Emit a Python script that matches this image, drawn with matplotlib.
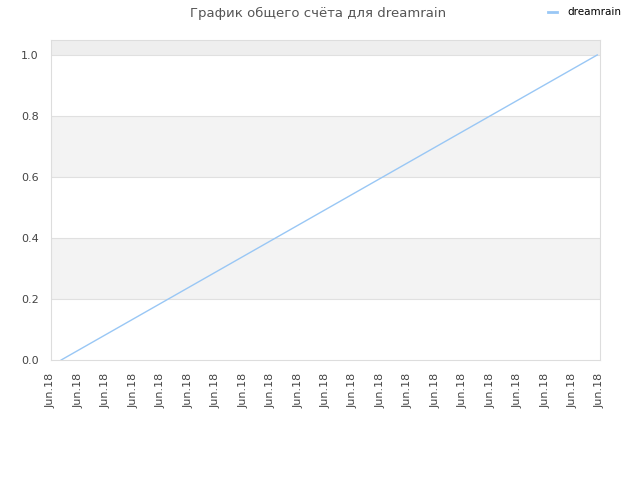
import matplotlib
matplotlib.use("Agg")
import matplotlib.pyplot as plt
from matplotlib.lines import Line2D

tick_labels = ["Jun.18"] * 21
x_vals = [0.37, 19.9]
y_vals = [0.0, 1.0]
series_name = "dreamrain"
title = "График общего счёта для dreamrain"

fig = plt.figure(figsize=(6.4, 4.8), dpi=100)
ax = fig.add_axes([51/640, 1-360/480, 549/640, 320/480])

ax.set_xlim(0, 20)
ax.set_ylim(0, 1.049)
bands = [(0.2, 0.4, "#f3f3f3"), (0.6, 0.8, "#f3f3f3"), (1.0, 1.049, "#eeeeee")]
for lo, hi, c in bands:
    ax.axhspan(lo, hi, color=c, zorder=0, lw=0)
for yv in [0.2, 0.4, 0.6, 0.8, 1.0]:
    ax.axhline(yv, color="#e0e0e0", lw=0.8, zorder=0.5)

ax.plot(x_vals, y_vals, color="#99c7f5", lw=1.0, label=series_name, zorder=2)

ax.set_xticks(range(len(tick_labels)))
ax.set_xticklabels(tick_labels, rotation=90, fontsize=8, color="#444444")
ax.set_yticks([0.0, 0.2, 0.4, 0.6, 0.8, 1.0])
ax.set_yticklabels(["0.0", "0.2", "0.4", "0.6", "0.8", "1.0"], fontsize=8, color="#444444")
ax.tick_params(axis="x", length=0, pad=9)
ax.tick_params(axis="y", length=0, pad=9)
for s in ax.spines.values():
    s.set_color("#dddddd")
    s.set_linewidth(0.8)

fig.text(0.497, 0.986, title, ha="center", va="top", fontsize=9.5, color="#555555")
handle = Line2D([], [], color="#99c7f5", lw=2.0)
fig.legend(handles=[handle], labels=[series_name], loc="upper right",
           bbox_to_anchor=(0.985, 1.004), frameon=False, fontsize=7.5, handlelength=0.8,
           handletextpad=1.0)

fig.savefig("out.png", dpi=100, facecolor="white")
